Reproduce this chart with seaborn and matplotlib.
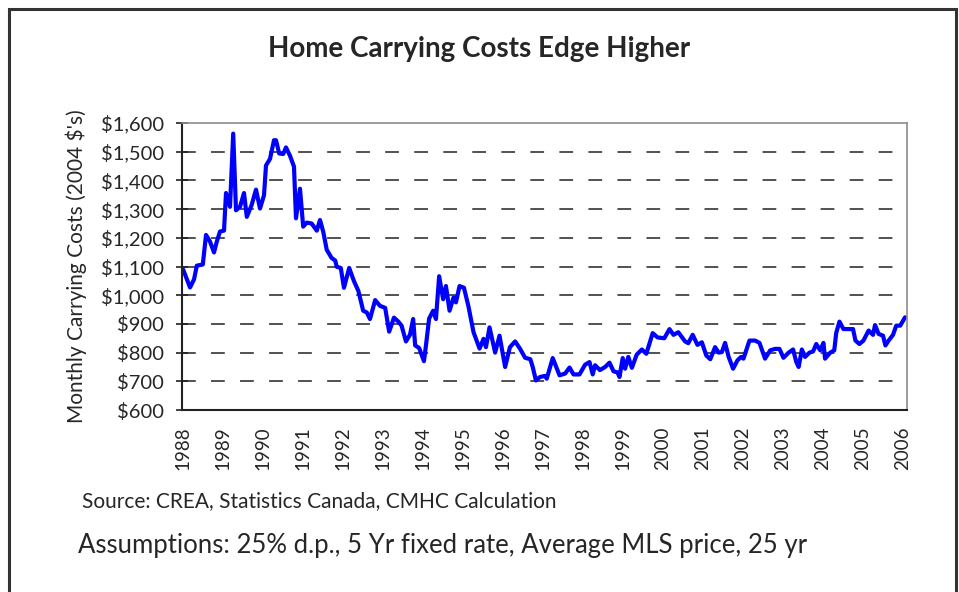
import matplotlib
matplotlib.use('Agg')
import matplotlib.pyplot as plt
import matplotlib.patches as patches
import matplotlib.ticker as mticker
import numpy as np
import pandas as pd
import seaborn as sns

# Monthly carrying costs (2004 $)
years = [
    1988.00, 1988.17, 1988.27, 1988.34, 1988.49, 1988.57, 1988.67, 1988.77, 1988.84, 1988.92,
    1989.02, 1989.07, 1989.17, 1989.25, 1989.32, 1989.42, 1989.52, 1989.59, 1989.71, 1989.82,
    1989.92, 1990.02, 1990.07, 1990.17, 1990.27, 1990.32, 1990.40, 1990.50, 1990.57, 1990.67,
    1990.77, 1990.82, 1990.92, 1991.00, 1991.09, 1991.21, 1991.34, 1991.42, 1991.50, 1991.59,
    1991.71, 1991.80, 1991.84, 1991.94, 1992.02, 1992.15, 1992.27, 1992.38, 1992.50, 1992.59,
    1992.67, 1992.80, 1992.92, 1993.05, 1993.15, 1993.27, 1993.38, 1993.46, 1993.57, 1993.67,
    1993.75, 1993.80, 1993.90, 1994.02, 1994.07, 1994.15, 1994.25, 1994.32, 1994.40, 1994.50,
    1994.57, 1994.66, 1994.76, 1994.82, 1994.91, 1995.02, 1995.13, 1995.26, 1995.41, 1995.51,
    1995.57, 1995.66, 1995.80, 1995.91, 1996.05, 1996.17, 1996.30, 1996.42, 1996.55, 1996.68,
    1996.74, 1996.82, 1996.92, 1997.05, 1997.09, 1997.24, 1997.41, 1997.55, 1997.66, 1997.76,
    1997.91, 1998.05, 1998.16, 1998.24, 1998.30, 1998.42, 1998.55, 1998.66, 1998.76, 1998.86,
    1998.91, 1998.99, 1999.05, 1999.13, 1999.22, 1999.34, 1999.47, 1999.58, 1999.74, 1999.86,
    2000.03, 2000.16, 2000.26, 2000.38, 2000.55, 2000.63, 2000.74, 2000.86, 2000.97, 2001.08,
    2001.18, 2001.30, 2001.39, 2001.47, 2001.55, 2001.64, 2001.75, 2001.86, 2001.95, 2002.01,
    2002.16, 2002.30, 2002.41, 2002.55, 2002.68, 2002.80, 2002.91, 2003.01, 2003.14, 2003.25,
    2003.33, 2003.39, 2003.47, 2003.55, 2003.66, 2003.75, 2003.83, 2003.93, 2004.01, 2004.05,
    2004.18, 2004.28, 2004.33, 2004.41, 2004.51, 2004.64, 2004.75, 2004.81, 2004.91, 2005.01,
    2005.14, 2005.25, 2005.30, 2005.39, 2005.50, 2005.56, 2005.64, 2005.75, 2005.83, 2005.93,
    2006.05,
]
costs = [
    1089, 1027, 1055, 1103, 1107, 1210, 1187, 1149, 1187, 1222,
    1225, 1356, 1308, 1563, 1296, 1308, 1356, 1273, 1314, 1368,
    1302, 1348, 1452, 1475, 1540, 1540, 1494, 1492, 1515, 1486,
    1448, 1268, 1371, 1239, 1253, 1250, 1225, 1262, 1222, 1158,
    1130, 1121, 1099, 1095, 1026, 1095, 1049, 1015, 946, 940,
    917, 983, 963, 956, 873, 922, 908, 894, 839, 862,
    917, 825, 816, 770, 825, 919, 946, 917, 1066, 986,
    1032, 946, 992, 975, 1032, 1026, 963, 871, 814, 848,
    819, 888, 800, 859, 750, 819, 839, 814, 782, 777,
    750, 703, 715, 719, 709, 781, 721, 727, 748, 724,
    724, 758, 767, 724, 756, 739, 750, 765, 735, 731,
    715, 781, 744, 785, 747, 793, 811, 796, 868, 853,
    850, 882, 862, 871, 839, 833, 862, 827, 836, 790,
    777, 819, 800, 802, 834, 785, 744, 773, 785, 779,
    842, 842, 834, 779, 808, 813, 813, 782, 800, 811,
    768, 750, 811, 785, 800, 804, 830, 808, 834, 779,
    800, 808, 869, 908, 882, 882, 882, 842, 830, 842,
    877, 862, 896, 865, 859, 825, 842, 862, 894, 894,
    923,
]
year_ticks = list(range(1988, 2007))
cost_ticks = [600, 700, 800, 900, 1000, 1100, 1200, 1300, 1400, 1500, 1600]

title = "Home Carrying Costs Edge Higher"
y_label = "Monthly Carrying Costs (2004 $'s)"
source_note = "Source: CREA, Statistics Canada, CMHC Calculation"
assumptions_note = "Assumptions: 25% d.p., 5 Yr fixed rate, Average MLS price, 25 yr"

df = pd.DataFrame({'Year': years, 'Cost': costs})

sns.set_theme(style='white')
plt.rcParams['font.family'] = ['Lato', 'DejaVu Sans']

fig = plt.figure(figsize=(9.59, 5.92), dpi=100)
ax = fig.add_axes([0.1898, 0.3074, 0.756, 0.4848])

sns.lineplot(data=df, x='Year', y='Cost', ax=ax, color='#0000FF', linewidth=3.0, sort=False)

ax.set_xlim(1987.97, 2006.10)
ax.set_ylim(600, 1600)
ax.set_xticks(year_ticks)
ax.set_xticklabels([str(y) for y in year_ticks], rotation=90, fontsize=13.5)
ax.set_yticks(cost_ticks)
ax.yaxis.set_major_formatter(mticker.FuncFormatter(lambda v, p: f"${v:,.0f}"))
ax.tick_params(axis='y', labelsize=14.5, direction='inout', length=8, width=1.2,
               color='#222222', left=True, pad=9)
ax.tick_params(axis='x', bottom=False, pad=6)

for v in cost_ticks[1:-1]:
    ax.axhline(v, color='#222222', linewidth=1.1, dashes=(9, 10), zorder=0)

ax.set_xlabel('')
ax.set_ylabel(y_label, fontsize=15, labelpad=10)

for side in ['top', 'right']:
    ax.spines[side].set_color('#8c8c8c')
    ax.spines[side].set_linewidth(1.2)
for side in ['left', 'bottom']:
    ax.spines[side].set_color('#222222')
    ax.spines[side].set_linewidth(1.5)

fig.text(0.5, 0.918, title, ha='center', va='center', fontsize=20, fontweight='bold')
fig.text(0.0855, 0.153, source_note, ha='left', va='center', fontsize=15)
fig.text(0.081, 0.079, assumptions_note, ha='left', va='center', fontsize=18.5)

# outer chart frame
frame = patches.Rectangle((9 / 959, -0.05), 947 / 959, 1.05 - 8.5 / 592,
                          transform=fig.transFigure, fill=False,
                          edgecolor='#333333', linewidth=2.2)
fig.patches.append(frame)

fig.savefig('out.png', dpi=100)
plt.close(fig)
